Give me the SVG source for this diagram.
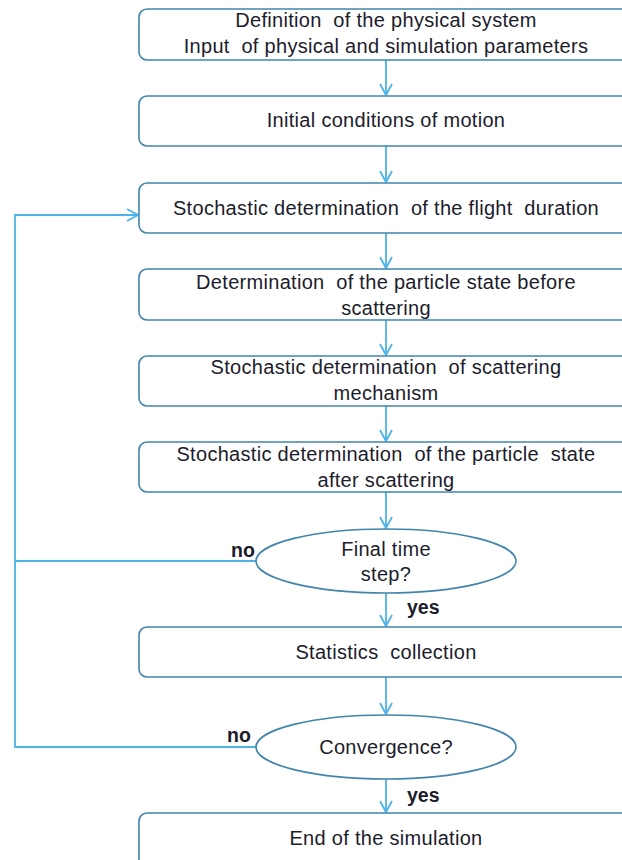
<svg xmlns="http://www.w3.org/2000/svg" width="622" height="860" viewBox="0 0 622 860">
  <style>
    .box { fill: #ffffff; stroke: #4185ad; stroke-width: 1.6; }
    .dec { fill: #ffffff; stroke: #4185ad; stroke-width: 1.6; }
    .lbl { font-family: "Liberation Sans", Arial, sans-serif; font-size: 20px; letter-spacing: 0.3px; fill: #1c1c2c; text-anchor: middle; white-space: pre; }
    .tag { font-family: "Liberation Sans", Arial, sans-serif; font-size: 19.5px; font-weight: bold; fill: #1c1c2c; }
    .flow { fill: none; stroke: #4db3e6; stroke-width: 1.8; }
  </style>
  <defs>
    <marker id="open" markerWidth="14" markerHeight="14" refX="12" refY="7" orient="auto" markerUnits="userSpaceOnUse">
      <path d="M1,1 L12,7 L1,13" fill="none" stroke="#4db3e6" stroke-width="1.8"/>
    </marker>
  </defs>

  <rect width="622" height="860" fill="#ffffff"/>

  <!-- connectors -->
  <g id="connectors">
    <line class="flow" x1="386" y1="60" x2="386" y2="95" marker-end="url(#open)"/>
    <line class="flow" x1="386" y1="146" x2="386" y2="182" marker-end="url(#open)"/>
    <line class="flow" x1="386" y1="233" x2="386" y2="268" marker-end="url(#open)"/>
    <line class="flow" x1="386" y1="320" x2="386" y2="355" marker-end="url(#open)"/>
    <line class="flow" x1="386" y1="406" x2="386" y2="441" marker-end="url(#open)"/>
    <line class="flow" x1="386" y1="492" x2="386" y2="528" marker-end="url(#open)"/>
    <line class="flow" x1="386" y1="593" x2="386" y2="626" marker-end="url(#open)"/>
    <line class="flow" x1="386" y1="677" x2="386" y2="714" marker-end="url(#open)"/>
    <line class="flow" x1="386" y1="779" x2="386" y2="812" marker-end="url(#open)"/>
    <!-- loop back to flight duration -->
    <polyline class="flow" points="256,747 15,747 15,215 138,215" marker-end="url(#open)"/>
    <line class="flow" x1="256" y1="561" x2="15" y2="561"/>
    <text class="tag" x="231" y="557">no</text>
    <text class="tag" x="227" y="742">no</text>
    <text class="tag" x="407" y="614">yes</text>
    <text class="tag" x="407" y="802">yes</text>
  </g>

  <g id="n1">
    <rect class="box" x="139" y="9" width="494" height="51" rx="8"/>
    <text class="lbl" x="386" y="27">Definition  of the physical system</text>
    <text class="lbl" x="386" y="53">Input  of physical and simulation parameters</text>
  </g>
  <g id="n2">
    <rect class="box" x="139" y="96" width="494" height="50" rx="8"/>
    <text class="lbl" x="386" y="127">Initial conditions of motion</text>
  </g>
  <g id="n3">
    <rect class="box" x="139" y="183" width="494" height="50" rx="8"/>
    <text class="lbl" x="386" y="215">Stochastic determination  of the flight  duration</text>
  </g>
  <g id="n4">
    <rect class="box" x="139" y="269" width="494" height="51" rx="8"/>
    <text class="lbl" x="386" y="289">Determination  of the particle state before</text>
    <text class="lbl" x="386" y="315">scattering</text>
  </g>
  <g id="n5">
    <rect class="box" x="139" y="356" width="494" height="50" rx="8"/>
    <text class="lbl" x="386" y="374">Stochastic determination  of scattering</text>
    <text class="lbl" x="386" y="400">mechanism</text>
  </g>
  <g id="n6">
    <rect class="box" x="139" y="442" width="494" height="50" rx="8"/>
    <text class="lbl" x="386" y="461">Stochastic determination  of the particle  state</text>
    <text class="lbl" x="386" y="487">after scattering</text>
  </g>
  <g id="d1">
    <ellipse class="dec" cx="386" cy="561" rx="130" ry="32"/>
    <text class="lbl" x="386" y="556">Final time</text>
    <text class="lbl" x="386" y="581">step?</text>
  </g>
  <g id="n7">
    <rect class="box" x="139" y="627" width="494" height="50" rx="8"/>
    <text class="lbl" x="386" y="659">Statistics  collection</text>
  </g>
  <g id="d2">
    <ellipse class="dec" cx="386" cy="747" rx="130" ry="32"/>
    <text class="lbl" x="386" y="754">Convergence?</text>
  </g>
  <g id="n8">
    <rect class="box" x="139" y="813" width="494" height="60" rx="8"/>
    <text class="lbl" x="386" y="845">End of the simulation</text>
  </g>
</svg>
